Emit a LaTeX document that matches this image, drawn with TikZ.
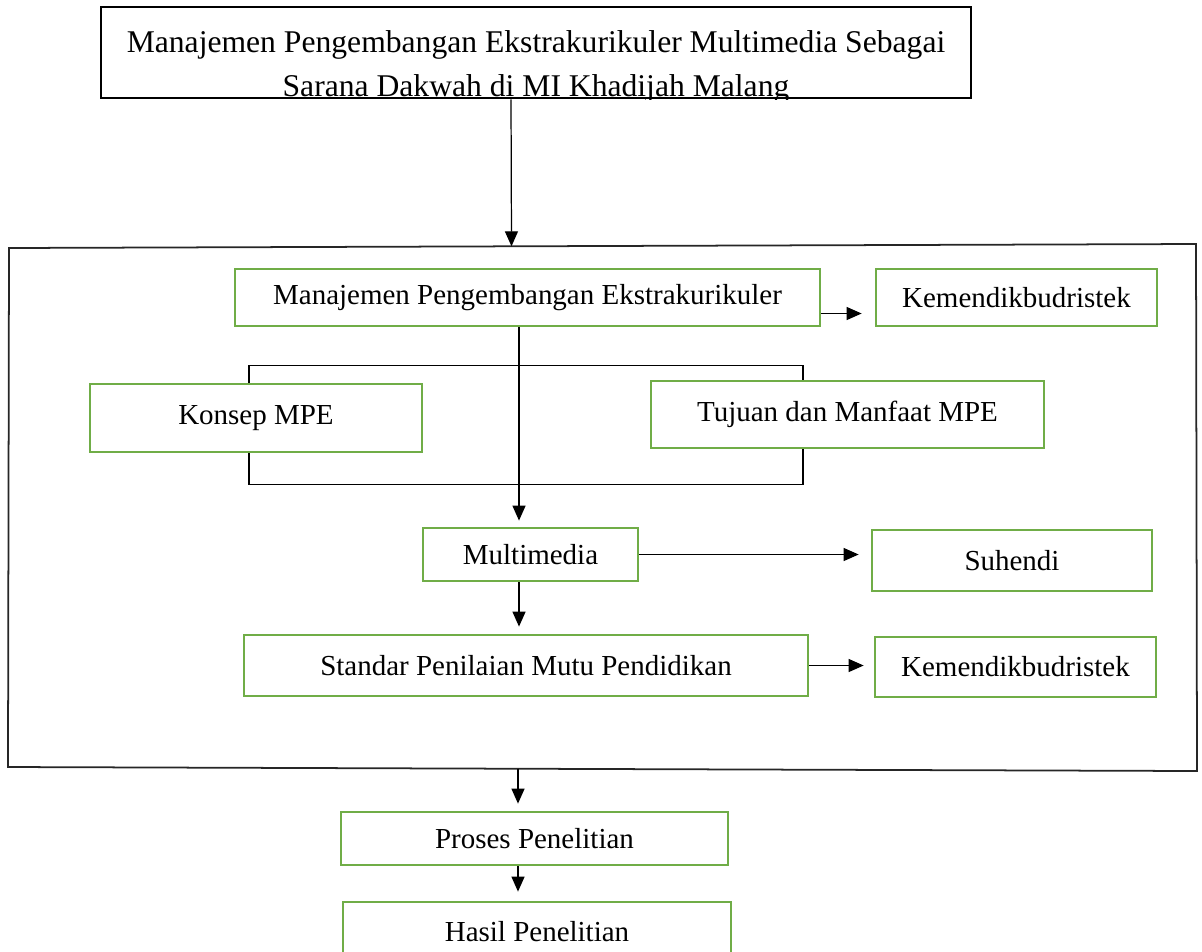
\documentclass[tikz,border=0pt]{standalone}
\usepackage{fontspec}
\setmainfont{Liberation Serif}
\usepackage{tikz}
\usetikzlibrary{arrows.meta}
\definecolor{grn}{RGB}{112,173,71}

\begin{document}
\begin{tikzpicture}[x=0.02cm,y=-0.02cm,
  gbox/.style={draw=grn,line width=1.6pt,inner sep=0pt,font=\fontsize{16.5}{20}\selectfont},
  arr/.style={line width=0.7pt,-{Triangle[length=0.3cm,width=0.26cm]}}]
\path[use as bounding box,clip] (0,0) rectangle (1202,951);

\node[draw,line width=1.5pt,minimum width=17.4cm,minimum height=1.82cm,inner sep=0pt] (H) at (536,52.5) {};
\begin{scope}
\clip (H.north west) rectangle (H.south east);
\node[align=center,inner sep=0pt,font=\fontsize{18}{25.5}\selectfont] (HT) at (536,67) {Manajemen Pengembangan Ekstrakurikuler Multimedia Sebagai\\Sarana Dakwah di MI Khadijah Malang};
\end{scope}

\coordinate (B1) at (9,248); \coordinate (B2) at (1196,244);
\coordinate (B3) at (1197,771); \coordinate (B4) at (8,767);
\draw[line width=1pt,black!85] (B1)--(B2)--(B3)--(B4)--cycle;
\coordinate (C1) at (511.5,246.3);
\coordinate (C2) at (518,768.7);

\node[gbox,minimum width=11.7cm,minimum height=1.14cm] (M0) at (527.5,297.5) {Manajemen Pengembangan Ekstrakurikuler};
\node[gbox,minimum width=5.62cm,minimum height=1.14cm] (K1) at (1016.5,297.5) {Kemendikbudristek};
\node[gbox,minimum width=6.64cm,minimum height=1.36cm] (KP) at (256,418) {Konsep MPE};
\node[gbox,minimum width=7.86cm,minimum height=1.34cm] (TM) at (847.5,414.5) {Tujuan dan Manfaat MPE};
\node[gbox,minimum width=4.3cm,minimum height=1.06cm] (MM) at (530.5,554.5) {Multimedia};
\node[gbox,minimum width=5.6cm,minimum height=1.22cm] (SH) at (1012,560.5) {Suhendi};
\node[gbox,minimum width=11.28cm,minimum height=1.22cm] (SP) at (526,665.5) {Standar Penilaian Mutu Pendidikan};
\node[gbox,minimum width=5.62cm,minimum height=1.2cm] (K2) at (1015.5,667) {Kemendikbudristek};
\node[gbox,minimum width=7.74cm,minimum height=1.06cm] (PP) at (534.5,838.5) {Proses Penelitian};
\node[gbox,minimum width=7.76cm,minimum height=1.2cm] (HP) at (537,932) {Hasil Penelitian};

\draw[arr] ([xshift=-0.5cm]H.south) -- (C1);
\draw[arr,shorten >=0.26cm] ([yshift=-0.32cm]M0.east) -- ([yshift=-0.32cm]K1.west);
\draw[line width=0.7pt] ([xshift=-.14cm]KP.north) -- +(0,-17) -| ([xshift=-.89cm]TM.north);
\draw[line width=0.7pt] ([xshift=-.14cm]KP.south) -- +(0,31) -| ([xshift=-.89cm]TM.south);
\draw[arr,shorten >=0.12cm] ([xshift=-.17cm]M0.south) -- ([xshift=-.17cm]M0.south |- MM.north);
\draw[arr,shorten >=0.24cm] (MM.east) -- (MM.east -| SH.west);
\draw[arr,shorten >=0.14cm] ([xshift=-.23cm]MM.south) -- ([xshift=-.23cm]MM.south |- SP.north);
\draw[arr,shorten >=0.2cm] (SP.east) -- (SP.east -| K2.west);
\draw[arr,shorten >=0.14cm] (C2) -- (C2 |- PP.north);
\draw[arr,shorten >=0.18cm] (C2 |- PP.south) -- (C2 |- HP.north);
\end{tikzpicture}
\end{document}
